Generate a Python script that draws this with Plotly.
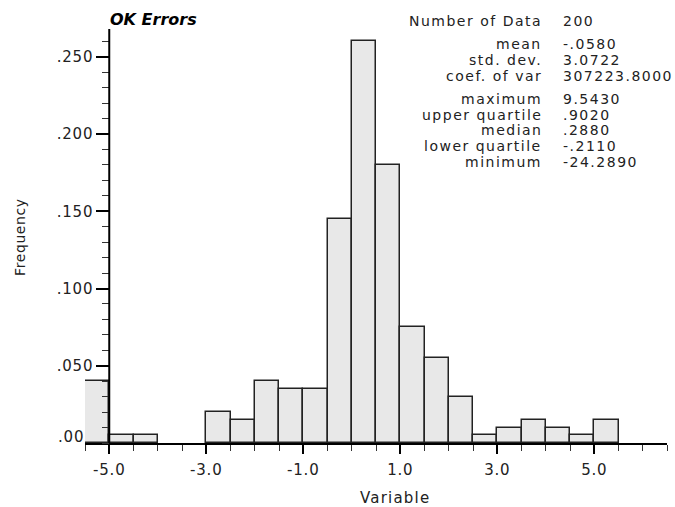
import plotly.graph_objects as go

# Histogram of kriging errors: bins of width 0.5 starting at -5.5
bin_starts = [-5.5, -5.0, -4.5, -4.0, -3.5, -3.0, -2.5, -2.0, -1.5, -1.0, -0.5,
              0.0, 0.5, 1.0, 1.5, 2.0, 2.5, 3.0, 3.5, 4.0, 4.5, 5.0]
frequency = [0.040, 0.005, 0.005, 0.000, 0.000, 0.020, 0.015, 0.040, 0.035, 0.035, 0.145,
             0.260, 0.180, 0.075, 0.055, 0.030, 0.005, 0.010, 0.015, 0.010, 0.005, 0.015]
bin_width = 0.5

x_tick_vals = [-5.0, -3.0, -1.0, 1.0, 3.0, 5.0]
x_tick_text = ["-5.0", "-3.0", "-1.0", "1.0", "3.0", "5.0"]
y_tick_vals = [0.0, 0.05, 0.10, 0.15, 0.20, 0.25]
y_tick_text = [".00", ".050", ".100", ".150", ".200", ".250"]

stat_names = ["Number of Data", "mean", "std. dev.", "coef. of var",
              "maximum", "upper quartile", "median", "lower quartile", "minimum"]
stat_values = ["200", "-.0580", "3.0722", "307223.8000",
               "9.5430", ".9020", ".2880", "-.2110", "-24.2890"]

W, H = 675, 507
ML, MR, MT, MB = 85, 8, 29, 64
X_RANGE = [-5.5, 6.5]
Y_RANGE = [0.0, 0.268]
Y_AXIS_AT = -5.0          # vertical axis crosses here; the overflow bin sits left of it
FONT = "DejaVu Sans"
INK = "#000000"
TXT = "#222222"


def spaced(s, px=1.0):
    return f'<span style="letter-spacing:{px}px">{s}</span>'


def px_x(p):
    return (p - ML) / (W - ML - MR)


def px_y(p):
    return (H - MB - p) / (H - MT - MB)


centers = [s + bin_width / 2 for s in bin_starts]
outline = [1.5 if f > 0 else 0 for f in frequency]

fig = go.Figure(go.Bar(
    x=centers, y=frequency, width=bin_width,
    marker=dict(color="#e8e8e8", line=dict(color="#222222", width=outline)),
    hoverinfo="skip",
))

annotations = [
    dict(text="<b><i>OK Errors</i></b>", x=px_x(108), y=px_y(20), xanchor="left",
         yanchor="middle", font=dict(size=16, color=INK, family=FONT)),
    dict(text=spaced("Frequency", 0.6), x=px_x(20), y=px_y(237), textangle=-90,
         xanchor="center", yanchor="middle", font=dict(size=14, color=TXT, family=FONT)),
    dict(text=spaced("Variable", 1.2), x=px_x(395), y=px_y(498), xanchor="center",
         yanchor="middle", font=dict(size=15, color=TXT, family=FONT)),
    # zero label sits beside the overflow bin, level with the baseline
    dict(text=spaced(y_tick_text[0], 0.8), x=px_x(86), y=px_y(437), xanchor="right",
         yanchor="middle", font=dict(size=15, color=TXT, family=FONT)),
]

# statistics block: three groups separated by a small gap
row_y = []
y = 20.7
for i in range(len(stat_names)):
    if i > 0:
        y += 15.6 + (8 if i in (1, 4) else 0)
    row_y.append(y)

for name, val, yy in zip(stat_names, stat_values, row_y):
    annotations.append(dict(text=spaced(name, 1.5), x=px_x(544), y=px_y(yy), xanchor="right",
                            yanchor="middle", font=dict(size=14, color=TXT, family=FONT)))
    annotations.append(dict(text=spaced(val, 1.5), x=px_x(561), y=px_y(yy), xanchor="left",
                            yanchor="middle", font=dict(size=14, color=TXT, family=FONT)))

for a in annotations:
    a.update(xref="paper", yref="paper", showarrow=False)

fig.update_layout(
    width=W, height=H,
    margin=dict(l=ML, r=MR, t=MT, b=MB, pad=0),
    paper_bgcolor="white", plot_bgcolor="white",
    showlegend=False, bargap=0,
    font=dict(family=FONT, size=15, color=INK),
    annotations=annotations,
    # vertical axis line at the crossing value
    shapes=[dict(type="line", xref="x", yref="paper", x0=Y_AXIS_AT, x1=Y_AXIS_AT,
                 y0=0, y1=1, line=dict(color=INK, width=2), layer="above")],
    xaxis=dict(
        range=X_RANGE, showgrid=False, zeroline=False,
        showline=True, linecolor=INK, linewidth=1.5,
        ticks="outside", ticklen=9, tickwidth=1.5, tickcolor=INK,
        tickmode="array", tickvals=x_tick_vals,
        ticktext=[spaced(t, 0.8) for t in x_tick_text],
        ticklabelstandoff=3,
        tickfont=dict(size=15, color=TXT, family=FONT),
        minor=dict(tickmode="linear", tick0=0, dtick=0.5, ticklen=6,
                   tickwidth=1.2, tickcolor="#333333", showgrid=False),
        fixedrange=True,
    ),
    yaxis=dict(
        range=Y_RANGE, anchor="free",
        position=(Y_AXIS_AT - X_RANGE[0]) / (X_RANGE[1] - X_RANGE[0]),
        automargin=False, showgrid=False, zeroline=False,
        showline=False,
        ticks="outside", ticklen=13, tickwidth=1.5, tickcolor=INK,
        tickmode="array", tickvals=y_tick_vals[1:],
        ticktext=[spaced(t, 0.8) for t in y_tick_text[1:]],
        tickfont=dict(size=15, color=TXT, family=FONT),
        minor=dict(tickmode="linear", tick0=0, dtick=0.01, ticklen=7,
                   tickwidth=1.2, tickcolor="#333333", showgrid=False),
        fixedrange=True,
    ),
)

fig.write_html("out.html")
